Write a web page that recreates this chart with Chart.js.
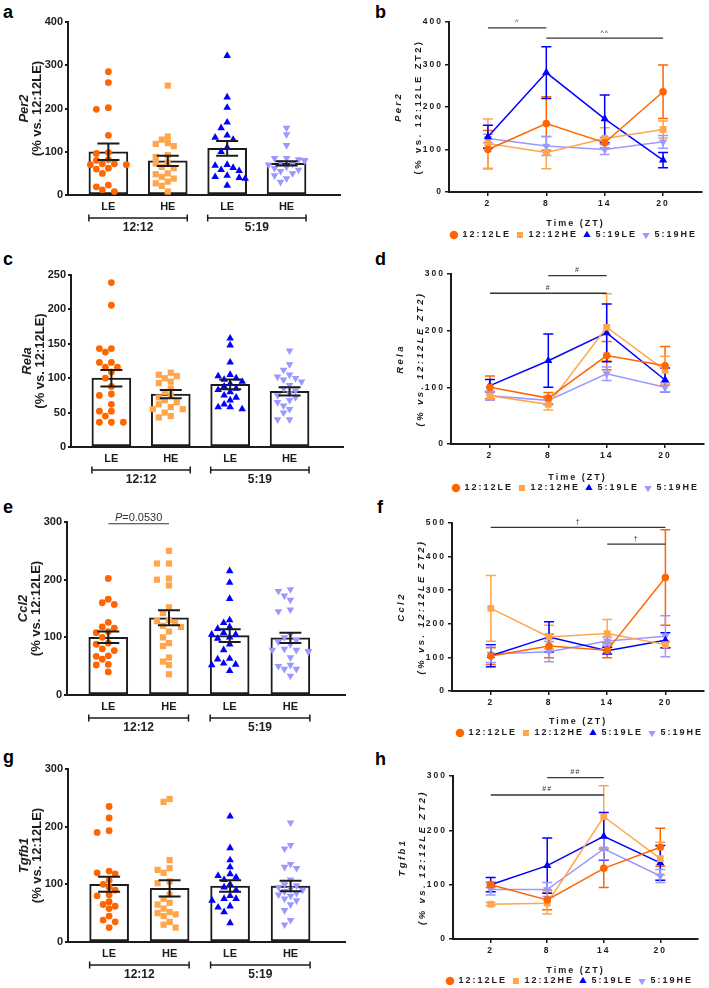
<!DOCTYPE html>
<html lang="en">
<head>
<meta charset="UTF-8">
<title>Per2, Rela, Ccl2, Tgfb1</title>
<script src="https://cdn.jsdelivr.net/npm/chart.js@4.4.1/dist/chart.umd.min.js"></script>
<style>
  html, body { margin: 0; padding: 0; background: #fff; overflow: hidden; }
  body { width: 709px; height: 988px; position: relative; }
  canvas { position: absolute; }
  .tag { position: absolute; font: bold 18px "Liberation Sans", Arial, sans-serif; line-height: 18px; color: #000; }
</style>
</head>
<body>
<div class="tag" style="left:3px;top:3px">a</div>
<div class="tag" style="left:375px;top:3px">b</div>
<div class="tag" style="left:3px;top:250px">c</div>
<div class="tag" style="left:375px;top:250px">d</div>
<div class="tag" style="left:3px;top:498px">e</div>
<div class="tag" style="left:377px;top:498px">f</div>
<div class="tag" style="left:3px;top:748px">g</div>
<div class="tag" style="left:375px;top:750px">h</div>

<canvas id="per2Bar" width="350" height="245" style="left:0;top:0"></canvas>
<canvas id="relaBar" width="350" height="245" style="left:0;top:250px"></canvas>
<canvas id="ccl2Bar" width="350" height="245" style="left:0;top:490px"></canvas>
<canvas id="tgfb1Bar" width="350" height="248" style="left:0;top:740px"></canvas>
<canvas id="per2Zt" width="359" height="250" style="left:350px;top:0"></canvas>
<canvas id="relaZt" width="359" height="250" style="left:350px;top:250px"></canvas>
<canvas id="ccl2Zt" width="359" height="250" style="left:350px;top:490px"></canvas>
<canvas id="tgfb1Zt" width="359" height="250" style="left:350px;top:740px"></canvas>

<script>
// groups and series
const groupLabels = ['LE', 'HE', 'LE', 'HE'];
const photoperiods = ['12:12', '5:19'];
const seriesNames = ['12:12LE', '12:12HE', '5:19LE', '5:19HE'];
const ztHours = [2, 8, 14, 20];
const seriesColors = ['#FF6600', '#FFA64D', '#0000FF', '#9999FF'];
const markerStyles = ['circle', 'rect', 'triangle', 'triangle'];
const markerTurn = [0, 0, 0, 180];
const markerRadius = [3.4, 4.4, 4.4, 4.4];

// Per2
const per2Mean = [100, 79, 108, 73];
const per2Sem = [19, 12, 17, 5];
const per2Points = [
  [285, 260, 198, 202, 138, 98, 96, 82, 80, 72, 72, 70, 62, 50, 60, 23, 8, 12, 19, 70],
  [253, 135, 128, 118, 113, 120, 92, 88, 75, 73, 62, 50, 48, 42, 38, 31, 27, 21, 8, 65],
  [322, 226, 202, 168, 155, 138, 133, 128, 100, 70, 68, 63, 58, 56, 45, 42, 40, 38, 22, 110],
  [155, 140, 115, 85, 80, 85, 82, 80, 80, 75, 72, 70, 65, 62, 58, 55, 50, 45, 38, 30]
];
const per2ZtMean = [[100, 161, 116, 236], [114, 93, 126, 147], [130, 281, 172, 75], [126, 108, 100, 118]];
const per2ZtSem = [[45, 63, 12, 63], [58, 38, 25, 20], [27, 61, 56, 18], [10, 22, 12, 15]];
const per2Sig = [{ from: 2, to: 8, y: 386, mark: '^' }, { from: 8, to: 20, y: 362, mark: '^^' }];

// Rela
const relaMean = [100, 77, 91, 81];
const relaSem = [12, 6, 7, 6];
const relaPoints = [
  [239, 206, 143, 143, 138, 123, 123, 116, 116, 109, 100, 88, 77, 75, 62, 52, 52, 45, 36, 36, 36],
  [108, 105, 103, 100, 95, 93, 85, 80, 75, 72, 68, 65, 62, 58, 55, 55, 50, 45, 43],
  [158, 148, 123, 105, 103, 100, 98, 95, 92, 88, 83, 80, 75, 72, 68, 62, 58, 58, 55, 85],
  [140, 120, 112, 105, 102, 100, 98, 95, 90, 85, 82, 78, 75, 72, 68, 65, 60, 55, 50, 40, 40]
];
const relaZtMean = [[100, 81, 156, 138], [85, 70, 206, 130], [103, 147, 196, 113], [85, 77, 124, 100]];
const relaZtSem = [[20, 10, 25, 34], [8, 10, 59, 25], [11, 47, 51, 21], [8, 8, 12, 8]];
const relaSig = [{ from: 8, to: 14, y: 297, mark: '#' }, { from: 2, to: 14, y: 266, mark: '#' }];

// Ccl2
const ccl2Mean = [100, 134, 103, 99];
const ccl2Sem = [10, 13, 11, 9];
const ccl2Points = [
  [202, 166, 160, 157, 126, 118, 116, 110, 108, 100, 90, 88, 80, 77, 68, 67, 62, 53, 52, 40],
  [250, 228, 228, 202, 200, 190, 152, 142, 130, 128, 125, 120, 118, 110, 100, 90, 85, 65, 58, 52, 36],
  [215, 195, 167, 130, 125, 118, 115, 108, 105, 105, 100, 98, 88, 78, 63, 62, 55, 53, 52, 42],
  [183, 180, 172, 165, 148, 145, 105, 100, 95, 92, 88, 80, 78, 78, 76, 75, 65, 52, 50, 45, 45, 33]
];
const ccl2ZtMean = [[104, 134, 121, 338], [246, 161, 171, 138], [105, 161, 120, 151], [110, 117, 149, 163]];
const ccl2ZtSem = [[25, 35, 22, 142], [98, 35, 42, 10], [33, 45, 10, 22], [25, 30, 12, 61]];
const ccl2Sig = [{ from: 2, to: 20, y: 487, mark: '†' }, { from: 14, to: 20, y: 437, mark: '†' }];
const ccl2Compare = { from: 0, to: 1, y: 297, label: '=0.0530' };

// Tgfb1
const tgfb1Mean = [100, 93, 97, 97];
const tgfb1Sem = [13, 14, 10, 9];
const tgfb1Points = [
  [235, 215, 193, 190, 123, 120, 118, 107, 100, 95, 90, 82, 80, 70, 65, 62, 58, 45, 38, 35, 25],
  [248, 243, 142, 128, 125, 120, 105, 102, 82, 75, 68, 65, 58, 52, 50, 48, 45, 35, 30, 25],
  [218, 163, 142, 130, 118, 115, 112, 108, 100, 95, 90, 80, 75, 75, 72, 62, 60, 52, 33],
  [207, 168, 162, 135, 130, 128, 108, 100, 98, 95, 92, 90, 88, 85, 82, 80, 75, 72, 65, 55, 38, 30]
];
const tgfb1ZtMean = [[100, 72, 130, 169], [64, 66, 225, 148], [100, 135, 189, 140], [91, 91, 166, 116]];
const tgfb1ZtSem = [[5, 18, 35, 35], [3, 20, 57, 30], [13, 51, 44, 32], [10, 13, 20, 12]];
const tgfb1Sig = [{ from: 8, to: 14, y: 297, mark: '##' }, { from: 2, to: 14, y: 265, mark: '##' }];

const fam = "'Liberation Sans', Arial, Helvetica, sans-serif";
const ink = '#1c1c1c';
Chart.defaults.font.family = fam;
Chart.defaults.color = ink;

// spread the dots of one group sideways so they don't sit on each other
function swarm(vals, pxY, pxX) {
  const step = 6, placed = [], offs = vals.map(() => 0);
  const order = vals.map((v, i) => i).sort((a, b) => vals[b] - vals[a]);
  const cands = [0, -1, 1, -2, 2, -3, 3].map(k => k * step);
  for (const i of order) {
    const py = vals[i] * pxY;
    let pick = cands[cands.length - 1];
    for (const c of cands) {
      if (placed.every(p => Math.hypot(p.x - c, p.y - py) >= step + 0.4)) { pick = c; break; }
    }
    placed.push({ x: pick, y: py });
    offs[i] = pick / pxX;
  }
  return offs;
}

function yTitle(gene, note, o) {
  return {
    id: 'yTitle',
    afterDraw(chart) {
      const { ctx, chartArea: a } = chart;
      const cy = (a.top + a.bottom) / 2;
      ctx.save();
      ctx.letterSpacing = o.spacing;
      ctx.fillStyle = ink;
      ctx.textAlign = 'center';
      ctx.textBaseline = 'middle';
      [[gene, o.geneFont, o.geneX], [note, o.noteFont, o.noteX]].forEach(([txt, font, dx]) => {
        ctx.save();
        ctx.translate(a.left + dx, cy);
        ctx.rotate(-Math.PI / 2);
        ctx.font = font;
        ctx.fillText(txt, 0, 0);
        ctx.restore();
      });
      ctx.restore();
    }
  };
}

const barErrors = {
  id: 'barErrors',
  afterDatasetsDraw(chart) {
    const { ctx, scales: { y } } = chart;
    const ds = chart.data.datasets[0];
    ctx.save();
    ctx.strokeStyle = ink;
    ctx.lineWidth = 2;
    chart.getDatasetMeta(0).data.forEach((bar, i) => {
      const m = ds.data[i].y, e = ds.sem[i];
      const hi = y.getPixelForValue(m + e), lo = y.getPixelForValue(m - e);
      ctx.beginPath();
      ctx.moveTo(bar.x, hi); ctx.lineTo(bar.x, lo);
      ctx.moveTo(bar.x - 11, hi); ctx.lineTo(bar.x + 11, hi);
      ctx.moveTo(bar.x - 11, lo); ctx.lineTo(bar.x + 11, lo);
      ctx.stroke();
    });
    ctx.restore();
  }
};

const groupBrackets = {
  id: 'groupBrackets',
  afterDraw(chart) {
    const { ctx, scales: { x }, chartArea } = chart;
    const yb = chartArea.bottom + 23;
    ctx.save();
    ctx.strokeStyle = ink;
    ctx.fillStyle = ink;
    ctx.lineWidth = 1.5;
    ctx.font = `bold 12px ${fam}`;
    ctx.textAlign = 'center';
    ctx.textBaseline = 'middle';
    photoperiods.forEach((label, k) => {
      const a = x.getPixelForValue(2 * k) - 19.5, b = x.getPixelForValue(2 * k + 1) + 19.5;
      ctx.beginPath();
      ctx.moveTo(a, yb); ctx.lineTo(b, yb);
      ctx.moveTo(a, yb - 3.5); ctx.lineTo(a, yb + 3.5);
      ctx.moveTo(b, yb - 3.5); ctx.lineTo(b, yb + 3.5);
      ctx.stroke();
      ctx.fillText(label, (a + b) / 2, yb + 10);
    });
    ctx.restore();
  }
};

function pCompare(c) {
  return {
    id: 'pCompare',
    afterDraw(chart) {
      const { ctx, scales: { x, y } } = chart;
      const x1 = x.getPixelForValue(c.from), x2 = x.getPixelForValue(c.to), yy = y.getPixelForValue(c.y);
      ctx.save();
      ctx.strokeStyle = '#333';
      ctx.lineWidth = 1.2;
      ctx.beginPath(); ctx.moveTo(x1, yy); ctx.lineTo(x2, yy); ctx.stroke();
      ctx.fillStyle = '#333';
      ctx.textBaseline = 'alphabetic';
      ctx.font = `italic 11px ${fam}`;
      const wp = ctx.measureText('P').width;
      ctx.font = `11px ${fam}`;
      const wr = ctx.measureText(c.label).width;
      const x0 = (x1 + x2) / 2 - (wp + wr) / 2;
      ctx.textAlign = 'left';
      ctx.font = `italic 11px ${fam}`;
      ctx.fillText('P', x0, yy - 3);
      ctx.font = `11px ${fam}`;
      ctx.fillText(c.label, x0 + wp, yy - 3);
      ctx.restore();
    }
  };
}

function barPanel(id, gene, mean, sem, points, yMax, yStep, box, extra) {
  const canvas = document.getElementById(id);
  const W = canvas.width, H = canvas.height;
  const xMin = -0.68, xMax = 3.9;
  const pxY = (box.bottom - box.top) / yMax;
  const pxX = (box.right - box.left) / (xMax - xMin);
  const datasets = [{
    type: 'bar',
    data: mean.map((m, i) => ({ x: i, y: m })),
    sem: sem,
    backgroundColor: '#fff',
    borderColor: ink,
    borderWidth: 2,
    borderSkipped: false,
    barThickness: 39,
    order: 3
  }];
  points.forEach((vals, g) => {
    const offs = swarm(vals, pxY, pxX);
    datasets.push({
      type: 'scatter',
      data: vals.map((v, k) => ({ x: g + offs[k], y: v })),
      pointStyle: markerStyles[g],
      rotation: markerTurn[g],
      radius: markerRadius[g],
      backgroundColor: seriesColors[g],
      borderColor: seriesColors[g],
      borderWidth: 0,
      order: 2
    });
  });
  const plugins = [barErrors, groupBrackets, yTitle(gene, '(% vs. 12:12LE)', {
    spacing: '0px', geneFont: `italic bold 13px ${fam}`, noteFont: `bold 13px ${fam}`, geneX: -44, noteX: -31
  })];
  if (extra) plugins.push(extra);
  new Chart(canvas, {
    type: 'bar',
    data: { datasets },
    options: {
      responsive: false,
      animation: false,
      devicePixelRatio: 1,
      layout: { padding: { left: 0, top: box.top, right: W - box.right, bottom: 0 } },
      plugins: { legend: { display: false }, tooltip: { enabled: false } },
      scales: {
        x: {
          type: 'linear', min: xMin, max: xMax, offset: false,
          grid: { display: false, drawTicks: false },
          border: { color: ink, width: 2 },
          afterBuildTicks: s => { s.ticks = groupLabels.map((_, i) => ({ value: i })); },
          afterFit: s => { s.height = H - box.bottom; },
          ticks: { padding: 5, maxRotation: 0, autoSkip: false, font: { size: 11, weight: 'bold' }, color: ink,
                   callback: v => groupLabels[v] }
        },
        y: {
          min: 0, max: yMax,
          ticks: { stepSize: yStep, padding: 2, font: { size: 11, weight: 'bold' }, color: ink },
          grid: { drawOnChartArea: false, tickLength: 3, color: ink, lineWidth: 2 },
          border: { color: ink, width: 2 },
          afterFit: s => { s.width = box.left; }
        }
      }
    },
    plugins
  });
}

const spacedText = {
  id: 'spacedText',
  beforeUpdate(c) { c.ctx.letterSpacing = '2px'; },
  beforeDraw(c) { c.ctx.letterSpacing = '2px'; }
};

const ztErrors = {
  id: 'ztErrors',
  beforeDatasetsDraw(chart) {
    const { ctx, scales: { y } } = chart;
    ctx.save();
    ctx.lineWidth = 1.5;
    chart.data.datasets.forEach((ds, d) => {
      ctx.strokeStyle = ds.borderColor;
      chart.getDatasetMeta(d).data.forEach((pt, i) => {
        const m = ds.data[i].y, e = ds.sem[i];
        const hi = y.getPixelForValue(m + e), lo = y.getPixelForValue(m - e);
        ctx.beginPath();
        ctx.moveTo(pt.x, hi); ctx.lineTo(pt.x, lo);
        ctx.moveTo(pt.x - 5, hi); ctx.lineTo(pt.x + 5, hi);
        ctx.moveTo(pt.x - 5, lo); ctx.lineTo(pt.x + 5, lo);
        ctx.stroke();
      });
    });
    ctx.restore();
  }
};

function sigBars(list) {
  return {
    id: 'sigBars',
    afterDraw(chart) {
      const { ctx, scales: { x, y } } = chart;
      ctx.save();
      ctx.strokeStyle = '#333';
      ctx.fillStyle = '#333';
      ctx.lineWidth = 1.3;
      ctx.letterSpacing = '1px';
      ctx.font = `7px ${fam}`;
      ctx.textAlign = 'center';
      ctx.textBaseline = 'bottom';
      list.forEach(s => {
        const x1 = x.getPixelForValue(s.from), x2 = x.getPixelForValue(s.to), yy = y.getPixelForValue(s.y);
        ctx.beginPath(); ctx.moveTo(x1, yy); ctx.lineTo(x2, yy); ctx.stroke();
        ctx.fillText(s.mark, (x1 + x2) / 2, yy - 2);
      });
      ctx.restore();
    }
  };
}

function ztPanel(id, gene, means, sems, yMax, box, marks, noteItalic) {
  const canvas = document.getElementById(id);
  const W = canvas.width;
  const titleSize = 9, legendSize = 9, legendPad = 5;
  const lh = titleSize * 1.2;
  const titlePadBottom = box.legendY - box.titleY - lh / 2 - legendPad - legendSize / 2;
  const xHeight = box.titleY - box.bottom + lh / 2 + titlePadBottom;
  const legendH = legendSize + legendPad + 10;
  const H = Math.ceil(box.bottom + xHeight + legendH);
  canvas.height = H;
  const datasets = seriesNames.map((name, g) => ({
    type: 'line',
    label: name,
    data: ztHours.map((h, i) => ({ x: h, y: means[g][i] })),
    sem: sems[g],
    borderColor: seriesColors[g],
    backgroundColor: seriesColors[g],
    borderWidth: 1.5,
    pointStyle: markerStyles[g],
    pointRotation: markerTurn[g],
    pointRadius: markerRadius[g] + 0.4,
    pointBackgroundColor: seriesColors[g],
    pointBorderColor: seriesColors[g],
    pointBorderWidth: 0
  }));
  new Chart(canvas, {
    type: 'line',
    data: { datasets },
    options: {
      responsive: false,
      animation: false,
      devicePixelRatio: 1,
      layout: { padding: { left: 0, top: box.top, right: W - box.right, bottom: H - box.bottom - xHeight - legendH } },
      plugins: {
        tooltip: { enabled: false },
        legend: {
          position: 'bottom', align: 'end', fullSize: true,
          labels: { usePointStyle: true, boxHeight: 6, boxWidth: 8, padding: legendPad, color: ink,
                    font: { size: legendSize, weight: 'bold' } }
        }
      },
      scales: {
        x: {
          type: 'linear', min: -2, max: 24,
          grid: { drawOnChartArea: false, tickLength: 4, color: ink, lineWidth: 1.5 },
          border: { color: ink, width: 2 },
          afterBuildTicks: s => { s.ticks = ztHours.map(h => ({ value: h })); },
          afterFit: s => { s.height = xHeight; },
          ticks: { padding: 3, maxRotation: 0, autoSkip: false, font: { size: 8.5, weight: 'bold' }, color: ink },
          title: { display: true, text: 'Time (ZT)', color: ink, font: { size: titleSize, weight: 'bold' },
                   padding: { top: 0, bottom: titlePadBottom } }
        },
        y: {
          min: 0, max: yMax,
          ticks: { stepSize: 100, padding: 2, font: { size: 8.5, weight: 'bold' }, color: ink },
          grid: { drawOnChartArea: false, tickLength: 4, color: ink, lineWidth: 1.5 },
          border: { color: ink, width: 2 },
          afterFit: s => { s.width = box.left; }
        }
      }
    },
    plugins: [spacedText, ztErrors, sigBars(marks), yTitle(gene, '(% vs. 12:12LE ZT2)', {
      spacing: '2.4px', geneFont: `italic bold 9.5px ${fam}`,
      noteFont: `${noteItalic ? 'italic ' : ''}bold 9.5px ${fam}`, geneX: -51, noteX: -31
    })]
  });
}

barPanel('per2Bar', 'Per2', per2Mean, per2Sem, per2Points, 400, 100, { left: 68, top: 22, right: 340, bottom: 195 });
barPanel('relaBar', 'Rela', relaMean, relaSem, relaPoints, 250, 50, { left: 71, top: 25, right: 343, bottom: 197 });
barPanel('ccl2Bar', 'Ccl2', ccl2Mean, ccl2Sem, ccl2Points, 300, 100, { left: 67, top: 32, right: 345, bottom: 205 }, pCompare(ccl2Compare));
barPanel('tgfb1Bar', 'Tgfb1', tgfb1Mean, tgfb1Sem, tgfb1Points, 300, 100, { left: 68, top: 29, right: 345, bottom: 202 });

ztPanel('per2Zt', 'Per2', per2ZtMean, per2ZtSem, 400, { left: 99, top: 22, right: 352, bottom: 192, titleY: 224, legendY: 235 }, per2Sig, false);
ztPanel('relaZt', 'Rela', relaZtMean, relaZtSem, 300, { left: 101, top: 24, right: 354, bottom: 194, titleY: 228, legendY: 238 }, relaSig, true);
ztPanel('ccl2Zt', 'Ccl2', ccl2ZtMean, ccl2ZtSem, 500, { left: 102, top: 33, right: 358, bottom: 201, titleY: 232, legendY: 243 }, ccl2Sig, true);
ztPanel('tgfb1Zt', 'Tgfb1', tgfb1ZtMean, tgfb1ZtSem, 300, { left: 103, top: 36, right: 348, bottom: 199, titleY: 231, legendY: 241 }, tgfb1Sig, true);
</script>
</body>
</html>
